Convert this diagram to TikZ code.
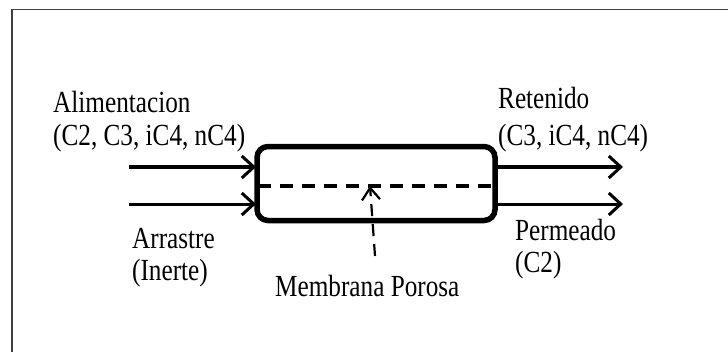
\documentclass[tikz,border=0pt]{standalone}
\usepackage{fontspec}
\setmainfont{Liberation Serif}
\usetikzlibrary{arrows.meta}
\newcommand{\tall}[1]{\scalebox{0.97}[1.18]{#1}}
\begin{document}
\begin{tikzpicture}[x=1pt,y=-1pt,
  lbl/.style={anchor=base west,inner sep=0pt,font=\fontsize{26}{30}\selectfont},
  flow/.style={line width=3.5pt,-{Straight Barb[length=12pt,width=22pt,line width=3pt]}},
  membox/.style={draw,line width=5.5pt,rounded corners=11pt},
  memline/.style={line width=4pt,dash pattern=on 13pt off 9pt},
  pointer/.style={line width=2.2pt,dash pattern=on 12pt off 8pt,-{Straight Barb[length=12pt,width=18pt,line width=2.2pt]}}]
\useasboundingbox (0,0) rectangle (728,351);
\draw[line width=1.5pt,black!75] (12,360) -- (12,9.5) -- (740,9.5);
% module
\node[membox,minimum width=238pt,minimum height=74pt,inner sep=0pt] (mod) at (376,183.5) {};
\coordinate (mL) at (258,186);
\coordinate (mR) at (494,186);
\coordinate (mC) at (370,186);
\draw[memline] (mL) -- (mR);
% inputs
\coordinate (f0) at (129,167);
\coordinate (f1) at (256,167);
\coordinate (s0) at (129,204);
\coordinate (s1) at (256,204);
\draw[flow] (f0) -- (f1);
\draw[flow,line width=3pt] (s0) -- (s1);
% outputs
\coordinate (r0) at (497,167);
\coordinate (r1) at (623,167);
\coordinate (p0) at (497,204);
\coordinate (p1) at (623,204);
\draw[flow] (r0) -- (r1);
\draw[flow,line width=3pt] (p0) -- (p1);
% pointer
\coordinate (ptr) at (375,256);
\draw[pointer] (ptr) -- (mC);
% labels
\node[lbl] (ali) at (53,112) {\tall{Alimentacion}};
\node[lbl] (alic) at (53,145) {\tall{(C2, C3, iC4, nC4)}};
\node[lbl] (arr) at (132,248) {\tall{Arrastre}};
\node[lbl] (arrc) at (132,280) {\tall{(Inerte)}};
\node[lbl] (ret) at (498,108) {\tall{Retenido}};
\node[lbl] (retc) at (498,145) {\tall{(C3, iC4, nC4)}};
\node[lbl] (per) at (515,240) {\tall{Permeado}};
\node[lbl] (perc) at (515,272) {\tall{(C2)}};
\node[lbl] (mem) at (275,296) {\tall{Membrana Porosa}};
\end{tikzpicture}
\end{document}
